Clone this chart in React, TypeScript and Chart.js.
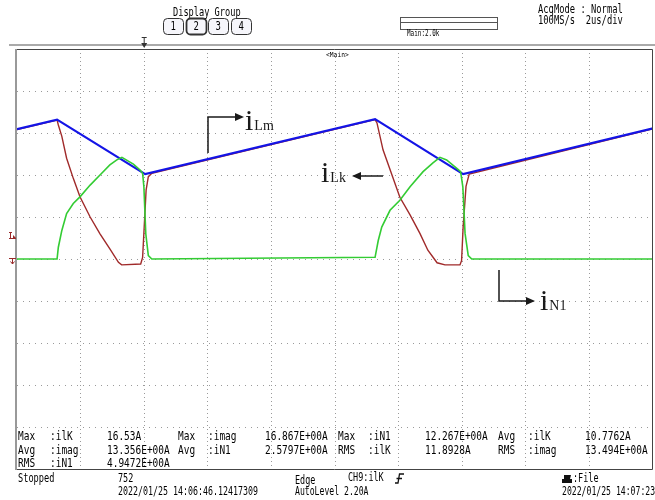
import React, { useEffect, useRef } from "react";
import { Chart, registerables } from "chart.js";
Chart.register(...registerables);

// time axis: microseconds (2 us/div, 10 div); amplitude axis: divisions
const timeMin = 0;
const timeMax = 20;
const timeStep = 2;
const divMin = -5;
const divMax = 5;

// iLm (blue)
const ilmT = [0, 1.26, 4.03, 11.26, 14.03, 20];
const ilmV = [3.09, 3.32, 2.02, 3.33, 2.02, 3.11];

// iLk (red)
const ilkT = [0, 1.26, 1.3, 1.41, 1.56, 1.77, 1.98, 2.3, 2.61, 2.92, 3.19, 3.29, 3.89, 3.95, 4.0, 4.06, 4.13, 4.24,
  11.26, 11.32, 11.51, 12.04, 12.36, 12.67, 12.92, 13.21, 13.46, 13.93, 13.98, 14.03, 14.12, 14.22, 20];
const ilkV = [3.08, 3.31, 3.19, 2.92, 2.4, 1.92, 1.48, 1.0, 0.6, 0.24, -0.08, -0.14, -0.12, 0.04, 0.76, 1.64, 1.96, 2.04,
  3.32, 3.24, 2.6, 1.47, 1.05, 0.61, 0.21, -0.09, -0.14, -0.14, -0.04, 0.77, 1.73, 2.02, 3.1];

// iN1 (green)
const in1T = [0, 1.26, 1.3, 1.41, 1.56, 1.77, 1.98, 2.3, 2.61, 2.92, 3.14, 3.3, 3.66, 3.87, 3.95, 3.99, 4.05, 4.13, 4.24,
  11.26, 11.36, 11.47, 11.73, 12.04, 12.36, 12.77, 13.08, 13.3, 13.51, 13.83, 13.95, 14.02, 14.09, 14.19, 14.3, 20];
const in1V = [0, 0, 0.28, 0.68, 1.08, 1.32, 1.48, 1.76, 2.0, 2.24, 2.36, 2.42, 2.26, 2.12, 2.04, 1.72, 0.6, 0.08, 0,
  0.04, 0.44, 0.76, 1.16, 1.4, 1.72, 2.08, 2.29, 2.42, 2.36, 2.16, 2.08, 1.72, 0.61, 0.08, 0, 0];

// measurement table
const measRows = [
  ["Max", ":ilK", "16.53A", "Max", ":imag", "16.867E+00A", "Max", ":iN1", "12.267E+00A", "Avg", ":ilK", "10.7762A"],
  ["Avg", ":imag", "13.356E+00A", "Avg", ":iN1", "2.5797E+00A", "RMS", ":ilK", "11.8928A", "RMS", ":imag", "13.494E+00A"],
  ["RMS", ":iN1", "4.9472E+00A"],
];

const pts = (t: number[], v: number[]) => t.map((x, i) => ({ x, y: v[i] }));

function mono(ctx: CanvasRenderingContext2D, s: string, x: number, y: number, cw: number, size = 13, color = "#000") {
  ctx.save();
  ctx.font = `${size}px "DejaVu Sans Mono"`;
  ctx.fillStyle = color;
  ctx.textBaseline = "middle";
  ctx.textAlign = "left";
  const sx = cw / (size * 0.602);
  ctx.translate(x, y);
  ctx.scale(sx, 1);
  ctx.fillText(s, 0, 0);
  ctx.restore();
}

function label(ctx: CanvasRenderingContext2D, main: string, sub: string, x: number, y: number) {
  ctx.save();
  ctx.fillStyle = "#1a1a1a";
  ctx.textBaseline = "alphabetic";
  ctx.font = `30px "Liberation Serif"`;
  ctx.fillText(main, x, y);
  const w = ctx.measureText(main).width;
  ctx.font = `14px "Liberation Serif"`;
  ctx.fillText(sub, x + w + 1, y);
  ctx.restore();
}

function arrow(ctx: CanvasRenderingContext2D, path: number[][], dir: "l" | "r") {
  ctx.save();
  ctx.strokeStyle = "#1a1a1a";
  ctx.fillStyle = "#1a1a1a";
  ctx.lineWidth = 1.5;
  ctx.beginPath();
  path.forEach(([x, y], i) => (i ? ctx.lineTo(x, y) : ctx.moveTo(x, y)));
  ctx.stroke();
  const [ex, ey] = path[path.length - 1];
  ctx.beginPath();
  if (dir === "r") {
    ctx.moveTo(ex + 8, ey);
    ctx.lineTo(ex - 1, ey - 4);
    ctx.lineTo(ex - 1, ey + 4);
  } else {
    ctx.moveTo(ex - 8, ey);
    ctx.lineTo(ex + 1, ey - 4);
    ctx.lineTo(ex + 1, ey + 4);
  }
  ctx.closePath();
  ctx.fill();
  ctx.restore();
}

const decor = {
  id: "decor",
  beforeDraw(chart: any) {
    const { ctx, width, height } = chart;
    ctx.save();
    ctx.fillStyle = "#fff";
    ctx.fillRect(0, 0, width, height);
    ctx.restore();
  },
  afterDraw(chart: any) {
    const ctx: CanvasRenderingContext2D = chart.ctx;
    const a = chart.chartArea;
    ctx.save();
    // top gray separator
    ctx.fillStyle = "#aaa";
    ctx.fillRect(9, 44, 646, 2);
    // frame
    ctx.strokeStyle = "#444";
    ctx.lineWidth = 1;
    ctx.beginPath();
    ctx.moveTo(a.left, a.top + 0.5);
    ctx.lineTo(a.right - 0.5, a.top + 0.5);
    ctx.lineTo(a.right - 0.5, a.bottom + 0.5);
    ctx.lineTo(a.left, a.bottom + 0.5);
    ctx.stroke();
    ctx.fillStyle = "#999";
    ctx.fillRect(a.left - 2, a.top, 2, a.bottom - a.top + 1);

    // header
    mono(ctx, "Display Group", 173, 13, 5.2);
    const bx = [163, 186, 208, 231];
    bx.forEach((x, i) => {
      ctx.beginPath();
      ctx.lineWidth = i === 1 ? 1.8 : 1;
      ctx.strokeStyle = "#333";
      ctx.fillStyle = "#f6f6fb";
      ctx.roundRect(x + 0.5, 18.5, 20, 16, 4);
      ctx.fill();
      ctx.stroke();
      mono(ctx, String(i + 1), x + 7.5, 27, 5.4, 12);
    });
    ctx.lineWidth = 1;
    ctx.strokeStyle = "#555";
    ctx.strokeRect(400.5, 17.5, 97, 12);
    ctx.beginPath();
    ctx.moveTo(401, 22.5);
    ctx.lineTo(497, 22.5);
    ctx.stroke();
    mono(ctx, "Main:2.0k", 407, 34, 3.6, 8);
    mono(ctx, "AcqMode : Normal", 538, 10, 5.3);
    mono(ctx, "100MS/s  2us/div", 538, 21, 5.3);
    mono(ctx, "<Main>", 326, 55, 3.8, 7);

    // trigger position marker
    const tx = chart.scales.x.getPixelForValue(4.0);
    ctx.strokeStyle = "#333";
    ctx.fillStyle = "#333";
    ctx.beginPath();
    ctx.moveTo(tx - 2.5, 37.5);
    ctx.lineTo(tx + 2.5, 37.5);
    ctx.moveTo(tx, 37.5);
    ctx.lineTo(tx, 45);
    ctx.stroke();
    ctx.beginPath();
    ctx.moveTo(tx - 3, 43);
    ctx.lineTo(tx + 3, 43);
    ctx.lineTo(tx, 48);
    ctx.closePath();
    ctx.fill();

    // channel markers (left)
    const gy = chart.scales.y.getPixelForValue(0);
    ctx.strokeStyle = "#9a2a2a";
    ctx.fillStyle = "#9a2a2a";
    ctx.lineWidth = 1;
    ctx.beginPath();
    ctx.moveTo(9, gy - 0.5);
    ctx.lineTo(16, gy - 0.5);
    ctx.moveTo(12.5, gy);
    ctx.lineTo(12.5, gy + 5);
    ctx.moveTo(10.5, gy + 2.5);
    ctx.lineTo(12.5, gy + 5);
    ctx.lineTo(14.5, gy + 2.5);
    ctx.stroke();
    const ty = chart.scales.y.getPixelForValue(0.5);
    ctx.beginPath();
    ctx.moveTo(9, ty - 5.5);
    ctx.lineTo(12, ty - 5.5);
    ctx.moveTo(10.5, ty - 5.5);
    ctx.lineTo(10.5, ty + 0.5);
    ctx.moveTo(9, ty + 0.5);
    ctx.lineTo(16, ty + 0.5);
    ctx.stroke();
    ctx.beginPath();
    ctx.moveTo(13, ty - 3);
    ctx.lineTo(16, ty);
    ctx.lineTo(13, ty);
    ctx.closePath();
    ctx.fill();

    // annotations
    arrow(ctx, [[208, 153], [208, 117], [236, 117]], "r");
    label(ctx, "i", "Lm", 245, 130);
    arrow(ctx, [[383, 176], [360, 176]], "l");
    label(ctx, "i", "Lk", 321, 182);
    arrow(ctx, [[499, 270], [499, 301], [527, 301]], "r");
    label(ctx, "i", "N1", 540, 310);

    // measurement table
    const cols = [18, 50, 107, 178, 208, 265, 338, 368, 425, 498, 528, 585];
    const rowsY = [437, 451, 464];
    measRows.forEach((row, r) => row.forEach((s, c) => mono(ctx, s, cols[c], rowsY[r], 5.7)));

    // status
    mono(ctx, "Stopped", 18, 479, 5.2);
    mono(ctx, "752", 118, 479, 5.1);
    mono(ctx, "2022/01/25 14:06:46.12417309", 118, 492, 5.0);
    mono(ctx, "Edge", 295, 481, 5.1);
    mono(ctx, "CH9:ilK", 348, 478, 5.1);
    ctx.strokeStyle = "#111";
    ctx.lineWidth = 1.3;
    ctx.beginPath();
    ctx.moveTo(395, 483);
    ctx.lineTo(398, 483);
    ctx.lineTo(399.5, 474);
    ctx.lineTo(404, 474);
    ctx.moveTo(396.5, 478.5);
    ctx.lineTo(402, 478.5);
    ctx.stroke();
    mono(ctx, "AutoLevel 2.20A", 295, 492, 4.9);
    ctx.fillStyle = "#111";
    ctx.beginPath();
    ctx.moveTo(564, 475);
    ctx.lineTo(571, 475);
    ctx.lineTo(570, 479);
    ctx.lineTo(572, 479);
    ctx.lineTo(572, 483);
    ctx.lineTo(562, 483);
    ctx.lineTo(562, 479);
    ctx.lineTo(564, 479);
    ctx.closePath();
    ctx.fill();
    mono(ctx, ":File", 573, 479, 5.1);
    mono(ctx, "2022/01/25 14:07:23", 562, 492, 4.9);
    ctx.restore();
  },
};

export default function App() {
  const ref = useRef<HTMLCanvasElement>(null);
  useEffect(() => {
    if (!ref.current) return;
    const gridColor = (edgeA: number, edgeB: number) => (c: any) =>
      c.tick && (c.tick.value === edgeA || c.tick.value === edgeB) ? "rgba(0,0,0,0)" : "#9a9a9a";
    const chart = new Chart(ref.current, {
      type: "line",
      data: {
        datasets: [
          { label: "iN1", data: pts(in1T, in1V), borderColor: "#33cc33", borderWidth: 1.6, order: 0 },
          { label: "iLm", data: pts(ilmT, ilmV), borderColor: "#1414e6", borderWidth: 2.2, order: 1 },
          { label: "iLk", data: pts(ilkT, ilkV), borderColor: "#a02a2a", borderWidth: 1.4, order: 2 },
        ],
      },
      options: {
        animation: false,
        responsive: false,
        parsing: false as any,
        elements: { point: { radius: 0 }, line: { tension: 0, fill: false } },
        layout: { padding: { left: 17, right: 2, top: 49, bottom: 31 } },
        plugins: { legend: { display: false }, tooltip: { enabled: false } },
        scales: {
          x: {
            type: "linear",
            min: timeMin,
            max: timeMax,
            ticks: { display: false, stepSize: timeStep },
            grid: { color: gridColor(timeMin, timeMax), drawTicks: false, lineWidth: 1 },
            border: { display: false, dash: [1, 3] },
          },
          y: {
            type: "linear",
            min: divMin,
            max: divMax,
            ticks: { display: false, stepSize: 1 },
            grid: { color: gridColor(divMin, divMax), drawTicks: false, lineWidth: 1 },
            border: { display: false, dash: [1, 5] },
          },
        },
      },
      plugins: [decor],
    });
    return () => chart.destroy();
  }, []);
  return (
    <div style={{ position: "absolute", left: 0, top: 0, width: 655, height: 500 }}>
      <canvas ref={ref} width={655} height={500} style={{ width: 655, height: 500 }} />
    </div>
  );
}
